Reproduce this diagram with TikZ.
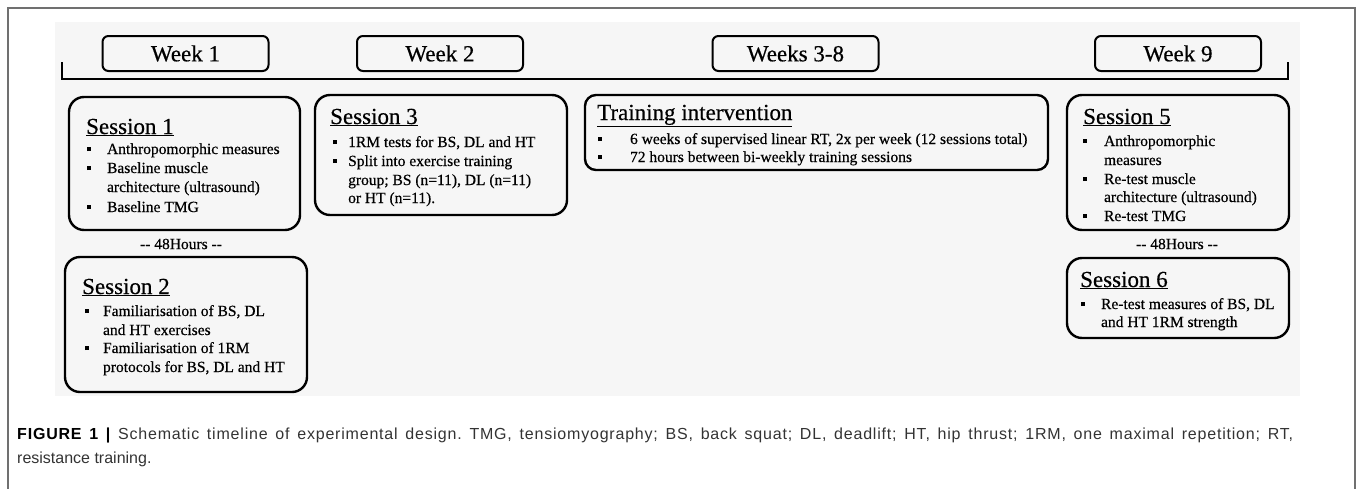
\documentclass[tikz,border=0pt]{standalone}
\usepackage{fontspec}
\setmainfont{Liberation Serif}[FakeBold=0.5]
\newfontfamily\capfont{Liberation Sans}
\usepackage{tikz}
\definecolor{framegray}{HTML}{707070}
\definecolor{captext}{HTML}{333333}
\definecolor{texturebg}{HTML}{F6F6F6}
\newcommand{\bul}[1][15pt]{\makebox[#1][l]{\rule[3pt]{3.6pt}{3.6pt}}}
\newcommand{\nobul}[1][15pt]{\hspace*{#1}}
\frenchspacing

\begin{document}
\begin{tikzpicture}[
    x=1pt, y=-1pt,
    every node/.style={inner sep=0pt, font=\fontsize{15.5}{18}\selectfont},
    weekbox/.style={draw, line width=2pt, rounded corners=6pt,
        minimum width=166pt, minimum height=35pt, font=\fontsize{23}{26}\selectfont},
    sessbox/.style={draw, line width=2.4pt, rounded corners=15pt},
    boxtitle/.style={anchor=base west, font=\fontsize{23}{26}\selectfont},
    item/.style={anchor=base west},
    captxt/.style={anchor=base west, text=captext, font=\capfont\fontsize{16}{18}\selectfont}
]
    \useasboundingbox (0,0) rectangle (1358,488);

    % === FRAME AND BACKGROUND ===
    \fill[texturebg] (55,22) rectangle (1300,396);
    \draw[framegray, line width=1.6pt] (8,492) -- (8,8) -- (1355,8) -- (1355,492);

    % === TIMELINE ===
    \draw[line width=2pt] (62,62) -- (62,79) -- (1288,79) -- (1288,62);

    \node[weekbox] (w1) at (185.5,53.5) {Week 1};
    \node[weekbox] (w2) at (440,53.5) {Week 2};
    \node[weekbox] (w38) at (795.5,53.5) {Weeks 3-8};
    \node[weekbox] (w9) at (1178,53.5) {Week 9};

    % === WEEK 1 ===
    \node[sessbox, minimum width=231pt, minimum height=133pt] (s1) at (184.5,163.5) {};
    \node[boxtitle] (s1t) at (86,134) {\underline{Session 1}};
    \foreach \y/\t [count=\i] in {154/\bul[16pt] Anthropomorphic measures,
                                  173/\bul[16pt] Baseline muscle,
                                  192/\nobul[16pt] architecture (ultrasound),
                                  212/\bul[16pt] Baseline TMG}
        \node[item] (s1-\i) at (87,\y) {\t};

    \node (gap1) at (181,244) {-{}- 48Hours -{}-};

    \node[sessbox, minimum width=242pt, minimum height=135pt] (s2) at (186,324.5) {};
    \node[boxtitle] (s2t) at (82,294) {\underline{Session 2}};
    \foreach \y/\t [count=\i] in {{316/\bul[14pt] Familiarisation of BS, DL},
                                  335/\nobul[14pt] and HT exercises,
                                  353/\bul[14pt] Familiarisation of 1RM,
                                  {372/\nobul[14pt] protocols for BS, DL and HT}}
        \node[item] (s2-\i) at (85,\y) {\t};

    % === WEEK 2 ===
    \node[sessbox, minimum width=252pt, minimum height=120pt] (s3) at (441,155) {};
    \node[boxtitle] (s3t) at (330,124) {\underline{Session 3}};
    \foreach \y/\t [count=\i] in {{147/\bul 1RM tests for BS, DL and HT},
                                  166/\bul Split into exercise training,
                                  {185/\nobul group; BS (n=11), DL (n=11)},
                                  203/\nobul or HT (n=11).}
        \node[item] (s3-\i) at (333,\y) {\t};

    % === WEEKS 3-8 ===
    \node[sessbox, rounded corners=11pt, minimum width=463pt, minimum height=75pt] (tr) at (816.5,132.5) {};
    \node[boxtitle] (trt) at (597,120) {\underline{Training intervention}};
    \foreach \y/\t [count=\i] in {{144/\bul[28pt] 6 weeks of supervised linear RT, 2x per week (12 sessions total)},
                                  162/\bul[28pt] 72 hours between bi-weekly training sessions}
        \node[item] (tr-\i) at (598,\y) {\t};

    % === WEEK 9 ===
    \node[sessbox, minimum width=222pt, minimum height=135pt] (s5) at (1178,162.5) {};
    \node[boxtitle] (s5t) at (1083,124) {\underline{Session 5}};
    \foreach \y/\t [count=\i] in {146/\bul[17pt] Anthropomorphic,
                                  165/\nobul[17pt] measures,
                                  184/\bul[17pt] Re-test muscle,
                                  202/\nobul[17pt] architecture (ultrasound),
                                  221/\bul[17pt] Re-test TMG}
        \node[item] (s5-\i) at (1083,\y) {\t};

    \node (gap2) at (1177,244) {-{}- 48Hours -{}-};

    \node[sessbox, minimum width=222pt, minimum height=80pt] (s6) at (1178,298) {};
    \node[boxtitle] (s6t) at (1080,287) {\underline{Session 6}};
    \foreach \y/\t [count=\i] in {{309/\bul[16pt] Re-test measures of BS, DL},
                                  327/\nobul[16pt] and HT 1RM strength}
        \node[item] (s6-\i) at (1081,\y) {\t};

    % === CAPTION ===
    \node[captxt] (cap1) at (17,439) {\addfontfeature{LetterSpace=5}\makebox[1276pt][s]{{\bfseries\color{black}FIGURE 1 |} Schematic timeline of experimental design. TMG, tensiomyography; BS, back squat; DL, deadlift; HT, hip thrust; 1RM, one maximal repetition; RT,}};
    \node[captxt] (cap2) at (17,463) {resistance training.};
\end{tikzpicture}
\end{document}
